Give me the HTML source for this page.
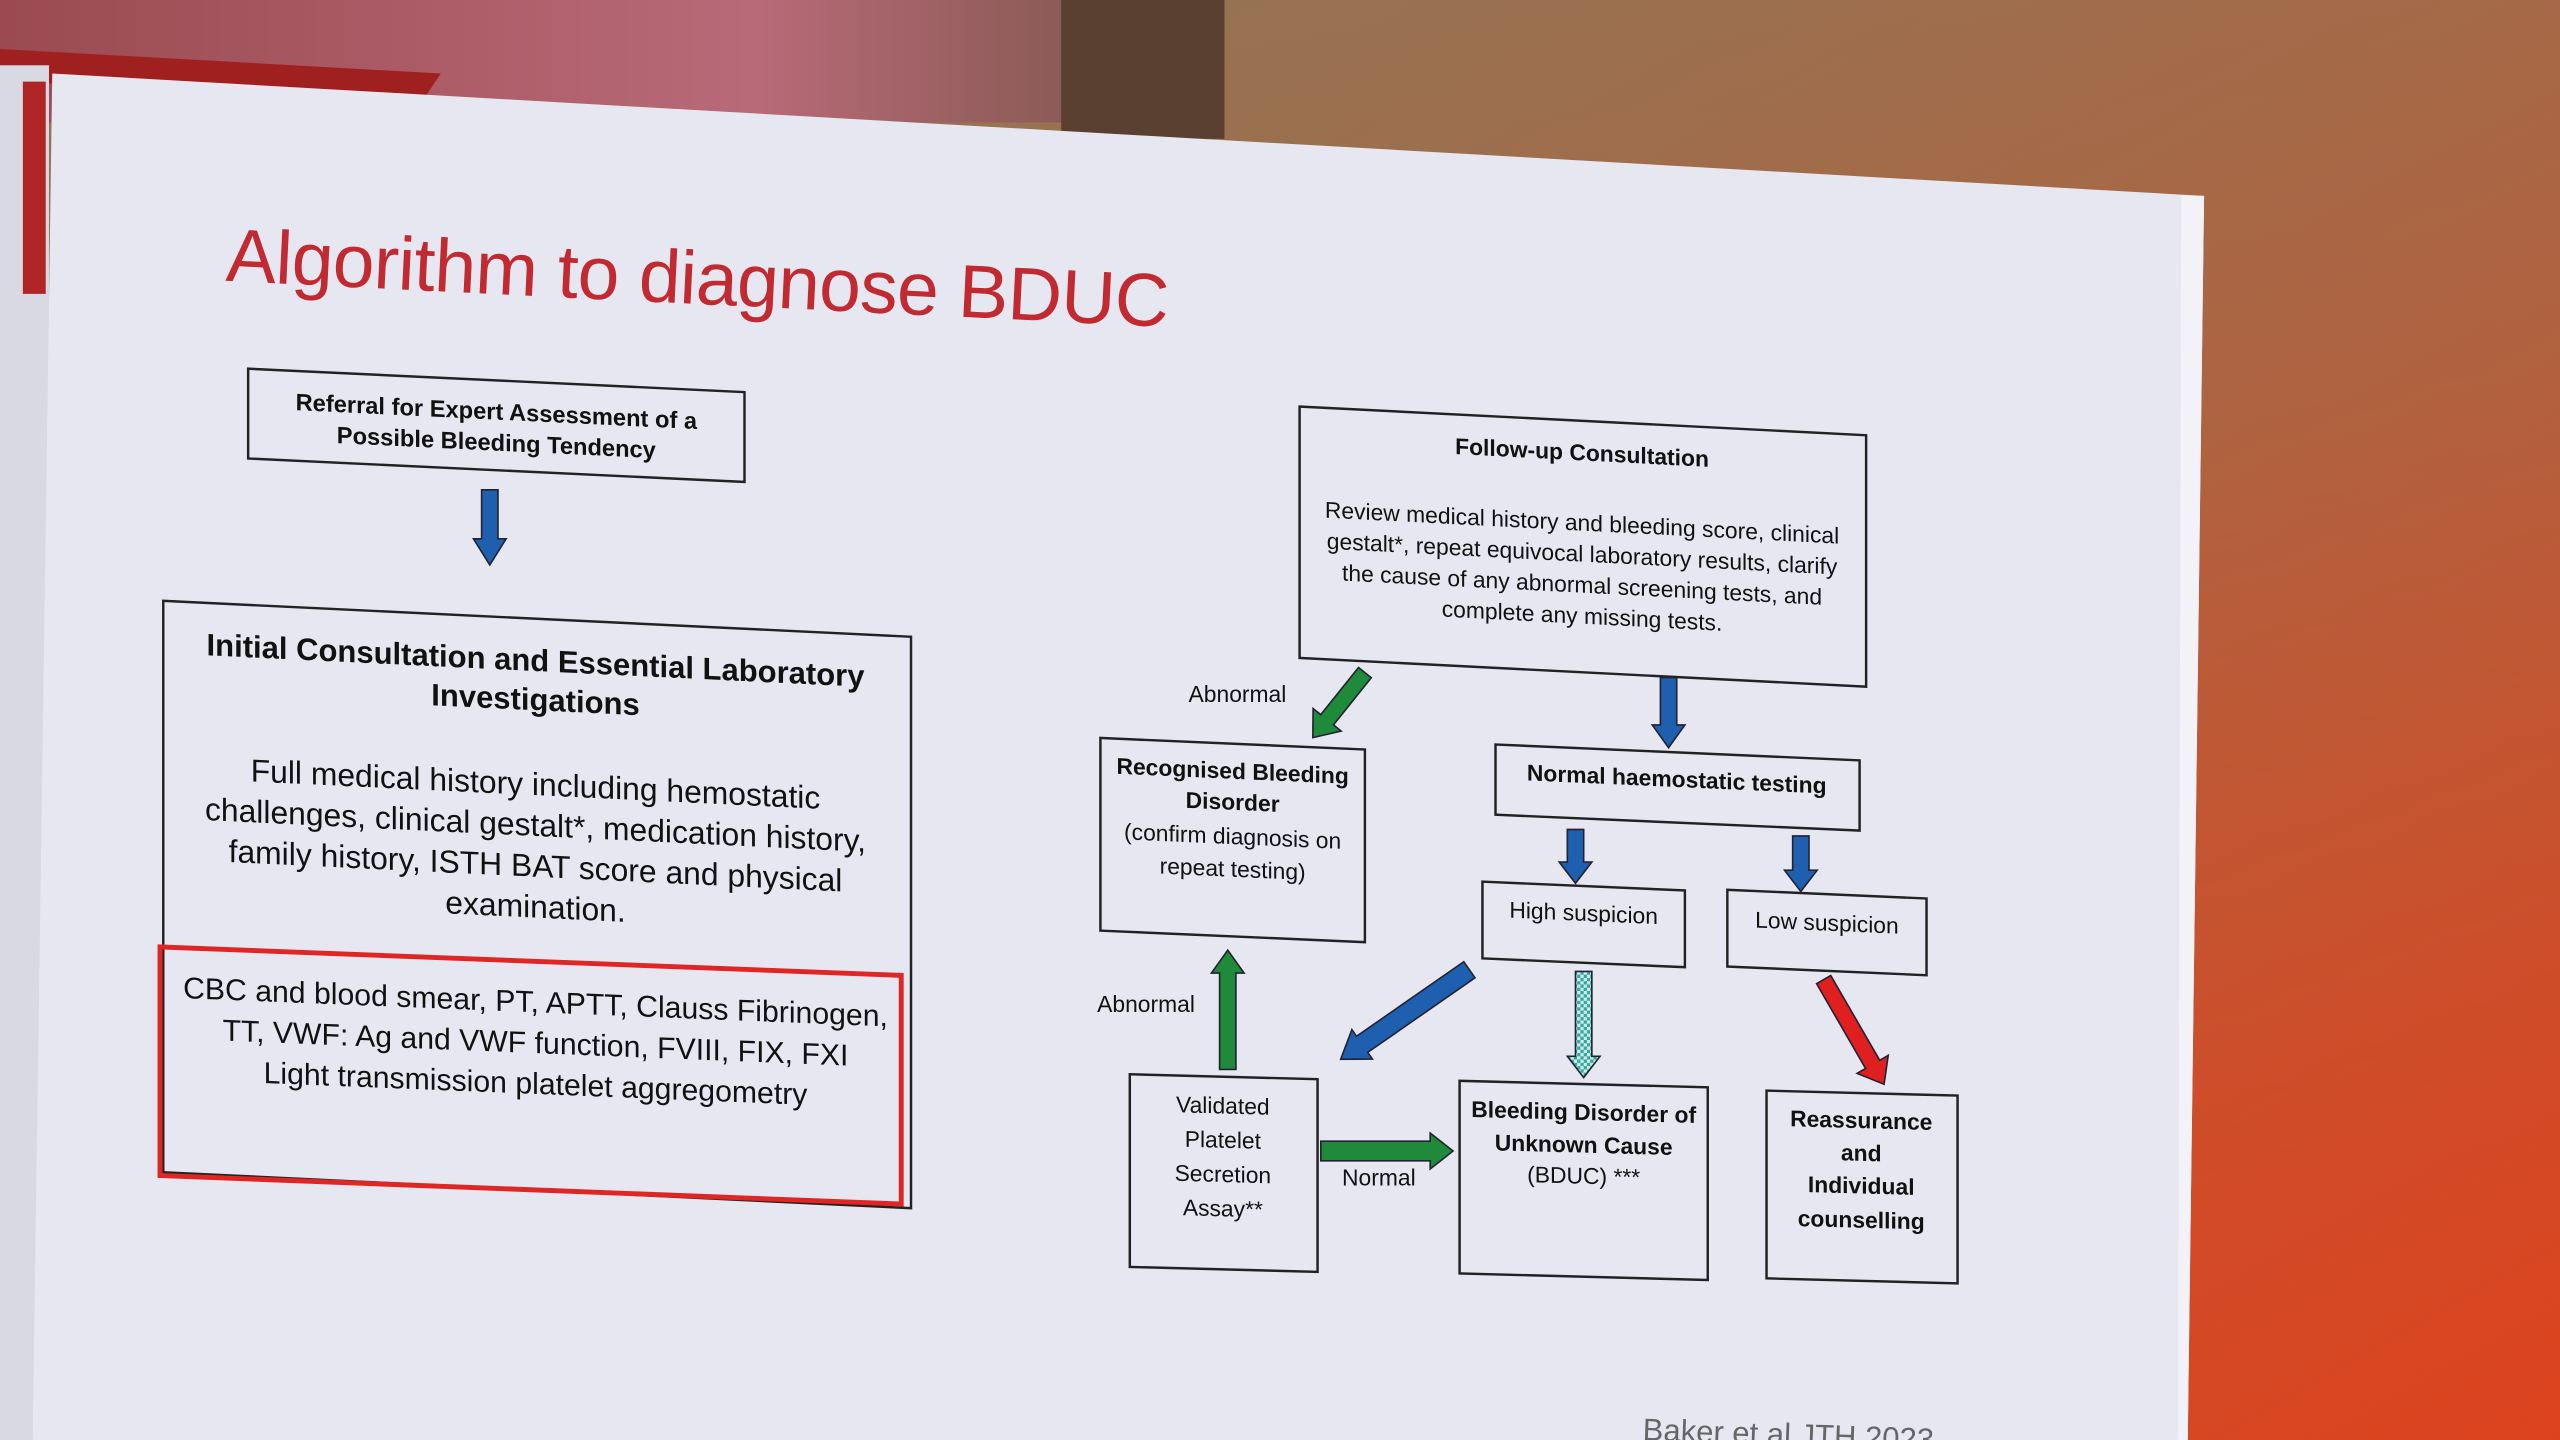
<!DOCTYPE html>
<html><head><meta charset="utf-8">
<style>
html,body{margin:0;padding:0;width:2560px;height:1440px;overflow:hidden;background:#8a6a4a;}
svg{display:block}
text{font-family:"Liberation Sans Narrow","Liberation Sans",sans-serif;fill:#111;}
</style></head><body>
<svg width="2560" height="1440" viewBox="0 0 1568 882" xmlns="http://www.w3.org/2000/svg">
<defs>
<linearGradient id="wall" x1="0" y1="0" x2="0.3" y2="1">
<stop offset="0" stop-color="#8f7656"/><stop offset="0.5" stop-color="#9a6e4c"/><stop offset="1" stop-color="#c8502a"/>
</linearGradient>
<linearGradient id="wall2" x1="0" y1="0" x2="1" y2="1">
<stop offset="0" stop-color="#9a7a5a" stop-opacity="0"/><stop offset="1" stop-color="#e0401c" stop-opacity="0.85"/>
</linearGradient>
<linearGradient id="topl" x1="0" y1="0" x2="1" y2="0">
<stop offset="0" stop-color="#9a4a50"/><stop offset="0.7" stop-color="#b86a78"/><stop offset="1" stop-color="#8a5a55"/>
</linearGradient>
<pattern id="hatch" width="4" height="4" patternUnits="userSpaceOnUse">
<rect width="4" height="4" fill="#c8ecea"/><rect width="2" height="2" fill="#3aa79b"/><rect x="2" y="2" width="2" height="2" fill="#3aa79b"/>
</pattern>
</defs>
<rect width="1568" height="882" fill="url(#wall)"/>
<rect width="1568" height="882" fill="url(#wall2)"/>
<rect x="0" y="0" width="660" height="75" fill="url(#topl)"/>
<rect x="650" y="0" width="100" height="85" fill="#5a4030"/>
<polygon points="0,30 270,45 260,60 0,50" fill="#a02020"/>
<rect x="0" y="40" width="30" height="842" fill="#d9d9e4"/>
<rect x="14" y="50" width="14" height="130" fill="#b02525"/>
<polygon points="32,45 1350,120 1340,882 20,882" fill="#e7e7f1"/>
<polygon points="1336,120 1350,120 1340,882 1334,882" fill="#f2f2f8"/>

<text x="138" y="172" font-size="46" style="fill:#c02a30;font-family:'Liberation Sans'" transform="rotate(2.8 138 172)" textLength="578">Algorithm to diagnose BDUC</text>

<g stroke="#222" stroke-width="1.5" fill="none">
<rect x="152" y="233" width="304" height="55" transform="translate(304 260) skewY(2.7) translate(-304 -260)"/>
<rect x="100" y="368" width="458" height="350" transform="translate(100 368) skewY(2.75) translate(-100 -368)"/>
<rect x="796" y="249" width="347" height="154" transform="translate(796 249) skewY(2.9) translate(-796 -249)"/>
<rect x="674" y="452" width="162" height="118" transform="translate(674 452) skewY(2.5) translate(-674 -452)"/>
<rect x="916" y="456" width="223" height="43" transform="translate(916 456) skewY(2.5) translate(-916 -456)"/>
<rect x="908" y="540" width="124" height="47" transform="translate(908 540) skewY(2.5) translate(-908 -540)"/>
<rect x="1058" y="545" width="122" height="47" transform="translate(1058 545) skewY(2.5) translate(-1058 -545)"/>
<rect x="692" y="658" width="115" height="118" transform="translate(692 658) skewY(1.5) translate(-692 -658)"/>
<rect x="894" y="662" width="152" height="118" transform="translate(894 662) skewY(1.5) translate(-894 -662)"/>
<rect x="1082" y="668" width="117" height="115" transform="translate(1082 668) skewY(1.5) translate(-1082 -668)"/>
</g>
<rect x="98" y="580" width="454" height="140" fill="none" stroke="#e02525" stroke-width="3" transform="translate(98 580) skewY(2.2) translate(-98 -580)"/>

<g font-size="14.5" font-weight="bold" text-anchor="middle" transform="translate(304 260) skewY(2.7) translate(-304 -260)">
<text x="304" y="257">Referral for Expert Assessment of a</text>
<text x="304" y="276">Possible Bleeding Tendency</text>
</g>
<g text-anchor="middle" transform="translate(328 545) skewY(2.75) translate(-328 -545)">
<text x="328" y="411" font-size="19" font-weight="bold">Initial Consultation and Essential Laboratory</text>
<text x="328" y="435" font-size="19" font-weight="bold">Investigations</text>
<text x="328" y="487" font-size="19.5">Full medical history including hemostatic</text>
<text x="328" y="512" font-size="19.5">challenges, clinical gestalt*, medication history,</text>
<text x="328" y="537" font-size="19.5">family history, ISTH BAT score and physical</text>
<text x="328" y="562" font-size="19.5">examination.</text>
</g>
<g text-anchor="middle" font-size="18.5" transform="translate(328 640) skewY(2.3) translate(-328 -640)">
<text x="328" y="620">CBC and blood smear, PT, APTT, Clauss Fibrinogen,</text>
<text x="328" y="645">TT, VWF: Ag and VWF function, FVIII, FIX, FXI</text>
<text x="328" y="670">Light transmission platelet aggregometry</text>
</g>
<g text-anchor="middle" font-size="14" transform="translate(969 334) skewY(2.9) translate(-969 -334)">
<text x="969" y="282" font-weight="bold">Follow-up Consultation</text>
<text x="969" y="325">Review medical history and bleeding score, clinical</text>
<text x="969" y="344">gestalt*, repeat equivocal laboratory results, clarify</text>
<text x="969" y="363">the cause of any abnormal screening tests, and</text>
<text x="969" y="382">complete any missing tests.</text>
</g>
<g text-anchor="middle" font-size="14" transform="translate(755 512) skewY(2.5) translate(-755 -512)">
<text x="755" y="477" font-weight="bold">Recognised Bleeding</text>
<text x="755" y="496" font-weight="bold">Disorder</text>
<text x="755" y="517">(confirm diagnosis on</text>
<text x="755" y="537">repeat testing)</text>
</g>
<text x="1027" y="482" font-size="14" font-weight="bold" text-anchor="middle" transform="translate(1027 479) skewY(2.5) translate(-1027 -479)">Normal haemostatic testing</text>
<text x="970" y="564" font-size="14" text-anchor="middle" transform="translate(970 565) skewY(2.5) translate(-970 -565)">High suspicion</text>
<text x="1119" y="570" font-size="14" text-anchor="middle" transform="translate(1119 570) skewY(2.5) translate(-1119 -570)">Low suspicion</text>
<g text-anchor="middle" font-size="14" transform="translate(749 718) skewY(1.5) translate(-749 -718)">
<text x="749" y="682">Validated</text>
<text x="749" y="703">Platelet</text>
<text x="749" y="724">Secretion</text>
<text x="749" y="745">Assay**</text>
</g>
<g text-anchor="middle" font-size="14" transform="translate(970 722) skewY(1.5) translate(-970 -722)">
<text x="970" y="686" font-weight="bold">Bleeding Disorder of</text>
<text x="970" y="706" font-weight="bold">Unknown Cause</text>
<text x="970" y="725">(BDUC) ***</text>
</g>
<g text-anchor="middle" font-size="14" font-weight="bold" transform="translate(1140 726) skewY(1.5) translate(-1140 -726)">
<text x="1140" y="691">Reassurance</text>
<text x="1140" y="711">and</text>
<text x="1140" y="731">Individual</text>
<text x="1140" y="752">counselling</text>
</g>
<text x="728" y="430" font-size="14">Abnormal</text>
<text x="672" y="620" font-size="14">Abnormal</text>
<text x="822" y="726" font-size="14">Normal</text>
<text x="1006" y="882" font-size="19" style="fill:#666;font-family:'Liberation Sans'" transform="rotate(2 1006 882)">Baker et al JTH 2023</text>

<g stroke="#223" stroke-width="1">
<g transform="translate(300,300) rotate(90)"><polygon fill="#1f5fb0" points="0,-5 30,-5 30,-10 46,0 30,10 30,5 0,5"/></g>
<g transform="translate(836,412) rotate(128.7)"><polygon fill="#1f8a3a" points="0,-5 37,-5 37,-11 51,0 37,11 37,5 0,5"/></g>
<g transform="translate(1022,415) rotate(90)"><polygon fill="#1f5fb0" points="0,-5 29,-5 29,-10 43,0 29,10 29,5 0,5"/></g>
<g transform="translate(965,508) rotate(90)"><polygon fill="#1f5fb0" points="0,-5 20,-5 20,-10 33,0 20,10 20,5 0,5"/></g>
<g transform="translate(1103,512) rotate(90)"><polygon fill="#1f5fb0" points="0,-5 21,-5 21,-10 34,0 21,10 21,5 0,5"/></g>
<g transform="translate(900,594) rotate(145.2)"><polygon fill="#1f5fb0" points="0,-6 80,-6 80,-11 96,0 80,11 80,6 0,6"/></g>
<g transform="translate(970,595) rotate(90)"><polygon fill="url(#hatch)" points="0,-5 52,-5 52,-10 65,0 52,10 52,5 0,5"/></g>
<g transform="translate(1117,600) rotate(60)"><polygon fill="#e02020" points="0,-5 60,-5 60,-11 74,0 60,11 60,5 0,5"/></g>
<g transform="translate(752,655) rotate(-90)"><polygon fill="#1f8a3a" points="0,-5 59,-5 59,-10 73,0 59,10 59,5 0,5"/></g>
<g transform="translate(809,705) rotate(0)"><polygon fill="#1f8a3a" points="0,-6 67,-6 67,-11 81,0 67,11 67,6 0,6"/></g>
</g>
</svg>
</body></html>
